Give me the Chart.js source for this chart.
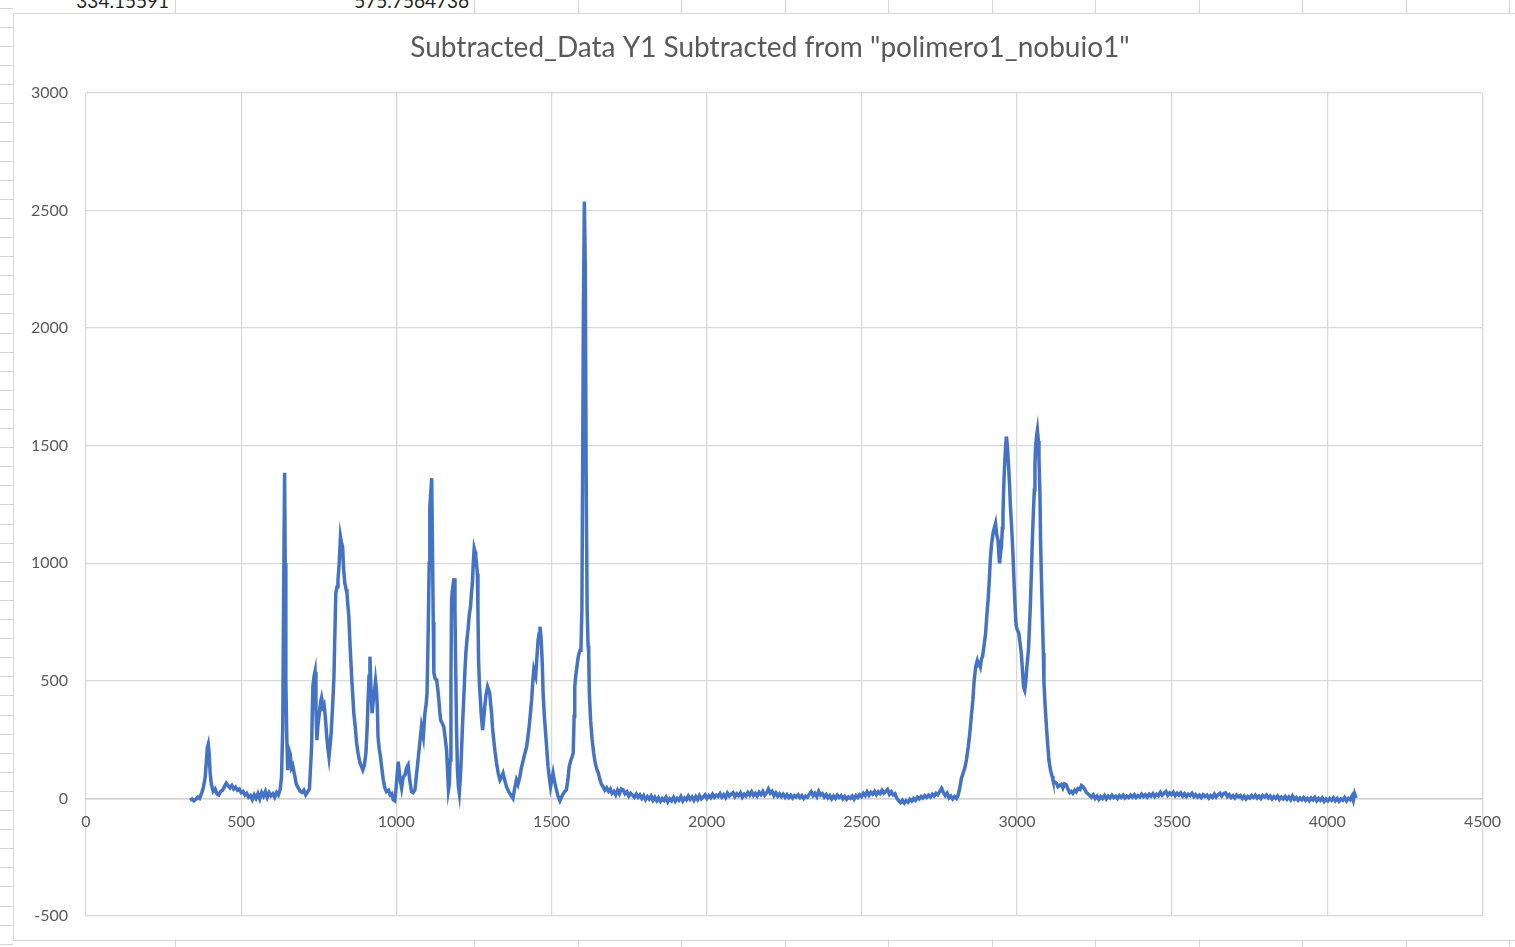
<!DOCTYPE html>
<html>
<head>
<meta charset="utf-8">
<script src="https://cdn.jsdelivr.net/npm/chart.js@4/dist/chart.umd.min.js"></script>
<style>
  html, body { margin: 0; padding: 0; background: #ffffff; }
  body { width: 1515px; height: 947px; position: relative; overflow: hidden; font-family: Lato, "Open Sans", sans-serif; }
  .cell-text { position: absolute; top: -9px; font-size: 19px; color: #1f1f1f; white-space: nowrap; line-height: 20px; }
  .vline { position: absolute; width: 1px; background: #d4d4d4; }
  .hline { position: absolute; height: 1px; background: #d4d4d4; }
  #frame { position: absolute; left: 13px; top: 13px; width: 1520px; height: 928px; border: 1px solid #d9d9d9; background: #ffffff; box-sizing: border-box; }
  #wrap { position: absolute; left: 0; top: 0; width: 1515px; height: 947px; }
</style>
</head>
<body>
<div id="sheet"></div>
<div class="cell-text" style="right:1346px;">334.15591</div>
<div class="cell-text" style="right:1046px;">575.7564736</div>
<div id="frame"></div>
<div id="wrap"><canvas id="chart" width="1515" height="947"></canvas></div>
<script>
// Raman shift (cm-1) / intensity pairs, grouped by spectral region
const regionLow = [
  [335,-8],[342,-2],[348,-10],[354,-3],[360,5],[366,0],[372,20],[378,45],[384,90],[388,160],
  [391,215],[394,230],[397,190],[400,110],[404,60],[410,30],[416,40],[422,20],[428,15],[434,30],
  [440,35],[446,50],[452,65],[458,55],[464,45],[470,55],[476,40],[482,48],[488,35],[494,40],
  [500,25],[506,30],[512,15],[518,22],[524,5],[530,12],[536,-5],[542,15],[548,0],[554,20],
  [560,-2],[566,25],[572,10],[578,30],[584,5],[590,25],[596,12],[602,20],[608,5],[614,25],
  [620,15],[626,40],[630,90],[634,300],[637,900],[640,1385],[642,1000],[644,500],[647,262],[650,120],
  [654,206],[658,190],[662,130],[666,140],[672,100],[678,60],[684,45],[690,30],[696,25],[702,35],
  [708,15],[714,28],[720,40],[727,220],[731,475],[735,520],[738,539],[741,380],[744,248],[748,320],
  [752,363],[756,410],[759,427],[763,390],[767,400],[771,350],[775,278],[779,220],[783,177],[787,230],
  [790,278],[795,400],[799,518],[802,700],[805,873],[809,900],[812,929],[816,1000],[820,1113],[823,1090],
  [827,1070],[830,980],[834,916],[838,890],[841,873],[844,820],[847,773],[851,650],[856,518],[860,430],
  [863,363],[868,300],[872,236],[877,190],[883,151],[888,135],[892,121],[897,140],[902,193],[906,300],
  [909,419],[912,520],[915,603],[918,480],[922,363],[926,420],[929,448],[933,500],[936,461],[939,380],
  [941,262],[945,210],[949,177],[954,120],[958,78],[963,45],[968,29],[975,35],[980,15],[985,20],
  [990,-5],[995,-10],[999,40],[1003,108],[1006,156],[1009,120],[1012,80],[1017,44],[1022,90],[1028,100],
  [1033,130],[1038,142],[1043,80],[1049,29],[1054,25],[1060,36],[1065,100],[1071,177],[1076,240],[1081,305],
  [1087,262],[1092,362],[1096,400],[1099,447],[1103,730],[1106,1000],[1108,1241],[1111,1300],[1114,1362],[1117,1014],
  [1119,750],[1121,533],[1125,510],[1130,504],[1134,460],[1137,419],[1140,370],[1143,333],[1148,320],[1153,305],
  [1158,250],[1162,206],[1165,120],[1168,36],[1171,60],[1173,163],[1176,500],[1178,844],[1182,900],[1186,936],
  [1189,800],[1191,589],[1194,300],[1197,121],[1200,50],[1203,22],[1206,80],[1209,163],[1213,300],[1218,447],
  [1221,540],[1224,617],[1228,680],[1231,716],[1235,780],[1239,815],[1242,870],[1245,915],[1248,1000],[1251,1064],
  [1254,1050],[1256,1028],[1259,990],[1261,957],[1263,800],[1265,589],[1268,480],[1271,419],[1274,350],[1278,291],
  [1281,330],[1285,390],[1289,440],[1294,475],[1298,460],[1301,448],[1304,400],[1307,363],[1310,300],[1314,248],
  [1318,200],[1323,151],[1328,110],[1334,78],[1339,90],[1344,107],[1349,80],[1355,50],[1360,35],[1366,20],
  [1371,10],[1376,0],[1381,40],[1387,78],[1392,60],[1398,92],[1403,130],[1409,163],[1414,190],[1420,220],
  [1424,260],[1428,305],[1432,360],[1436,419],[1440,500],[1443,546],[1446,530],[1449,518],[1453,600],[1457,674],
  [1460,700],[1463,730],[1466,690],[1468,645],[1471,550],[1473,448],[1477,350],[1482,262],[1486,190],[1489,135],
  [1493,90],[1497,50],[1501,80],[1505,108],[1510,70],[1516,36],[1521,10],[1527,-10],[1532,5],[1538,20],
  [1543,30],[1548,36],[1553,80],[1557,135],[1562,160],[1566,175],[1570,193],[1573,350],[1575,475],[1578,520],
  [1582,560],[1586,600],[1589,618],[1592,630],[1595,640],[1598,800],[1600,1300],[1603,2100],[1606,2538],[1609,2250],
  [1612,1300],[1615,800],[1618,650],[1620,618],[1622,450],[1626,333],[1631,250],[1636,193],[1641,150],[1646,125],
  [1651,108],[1656,80],[1661,60],[1666,50],[1672,35],[1678,45],[1684,30],[1690,40],[1695,22],[1701,30],
  [1707,15],[1713,35],[1719,20],[1725,40],[1731,36],[1737,20],[1743,28],[1749,10],[1755,22],[1761,14],
  [1767,5]
];

const regionSilent = [
  [1773,18],[1779,5],[1785,15],[1791,0],[1797,12],[1803,-5],[1809,8],[1815,-3],[1821,10],[1827,-8],
  [1833,5],[1839,-10],[1845,3],[1851,-12],[1857,0],[1863,-8],[1869,5],[1875,-15],[1881,-2],[1887,-10],
  [1893,4],[1899,-12],[1905,0],[1911,-8],[1917,8],[1923,-10],[1929,2],[1935,-6],[1941,10],[1947,-4],
  [1953,6],[1959,-8],[1965,8],[1971,-5],[1977,12],[1983,-2],[1989,6],[1995,15],[2001,0],[2007,12],
  [2013,3],[2019,18],[2025,5],[2031,14],[2037,8],[2043,20],[2049,6],[2055,16],[2061,4],[2067,22],
  [2073,10],[2079,18],[2085,25],[2091,8],[2097,20],[2103,12],[2109,24],[2115,6],[2121,18],[2127,10],
  [2133,25],[2139,14],[2145,28],[2151,12],[2157,22],[2163,10],[2169,26],[2175,16],[2181,30],[2187,14],
  [2193,24],[2199,40],[2205,22],[2211,30],[2217,12],[2223,24],[2229,10],[2235,20],[2241,8],[2247,18],
  [2253,5],[2259,16],[2265,4],[2271,14],[2277,2],[2283,12],[2289,6],[2295,15],[2301,3],[2307,12],
  [2313,0],[2319,10],[2325,5],[2331,18],[2337,28],[2343,12],[2349,22],[2355,8],[2361,30],[2367,14],
  [2373,20],[2379,6],[2385,16],[2391,2],[2397,12],[2403,-2],[2409,10],[2415,0],[2421,14],[2427,4],
  [2433,12],[2439,-2],[2445,8],[2451,-4],[2457,6],[2463,0],[2469,10],[2475,-3],[2481,12],[2487,4],
  [2493,16],[2499,8],[2505,22],[2511,12],[2517,28],[2523,14],[2529,26],[2535,18],[2541,30],[2547,16],
  [2553,28],[2559,20],[2565,34],[2571,22],[2577,30],[2583,38],[2589,18],[2595,28],[2601,15],[2607,20],
  [2613,0],[2619,-10],[2625,-18],[2631,-8],[2637,-20],[2643,-10],[2649,-16],[2655,-4],[2661,-12],[2667,0],
  [2673,-8],[2679,5],[2685,-2],[2691,8],[2697,2],[2703,12],[2709,4],[2715,14],[2721,6],[2727,18],
  [2733,10],[2739,22],[2745,16],[2751,30],[2757,43],[2763,25],[2769,12],[2775,22],[2781,2],[2787,10],
  [2793,-2],[2799,8],[2805,0],[2810,12]
];

const regionCH = [
  [2815,40],[2821,85],[2827,110],[2832,130],[2837,163],[2843,220],[2848,277],[2853,350],[2858,419],[2862,500],
  [2867,560],[2872,585],[2875,570],[2878,575],[2882,560],[2886,595],[2889,603],[2894,650],[2899,702],[2903,780],
  [2907,844],[2911,930],[2914,1014],[2918,1080],[2923,1128],[2927,1150],[2931,1170],[2935,1120],[2939,1099],[2942,1030],
  [2944,1000],[2947,1040],[2950,1071],[2953,1150],[2955,1213],[2958,1350],[2961,1439],[2964,1510],[2966,1539],[2969,1500],
  [2972,1439],[2976,1340],[2979,1241],[2983,1150],[2987,1043],[2990,940],[2993,844],[2996,760],[2998,730],[3002,715],
  [3006,702],[3010,660],[3014,617],[3018,540],[3021,475],[3025,460],[3028,489],[3032,560],[3037,631],[3040,720],
  [3043,815],[3047,980],[3050,1113],[3053,1220],[3056,1312],[3058,1420],[3060,1496],[3063,1540],[3066,1567],[3069,1520],
  [3071,1439],[3074,1300],[3076,1099],[3079,930],[3082,773],[3085,620],[3087,490],[3091,390],[3095,305],[3099,230],
  [3103,163],[3108,120],[3113,95],[3116,78],[3121,70],[3127,65],[3132,50],[3137,55],[3143,60],[3148,45],
  [3153,62],[3159,58],[3164,40],[3170,25],[3175,30],[3180,22],[3186,35],[3191,28],[3197,42],[3203,38],
  [3208,55],[3213,50],[3218,40],[3224,25],[3229,20],[3234,14]
];

const regionHigh = [
  [3240,5],[3246,15],[3252,0],[3258,10],[3264,-4],[3270,8],[3276,0],[3282,12],[3288,-2],[3294,10],
  [3300,2],[3306,14],[3312,4],[3318,10],[3324,0],[3330,12],[3336,4],[3342,14],[3348,2],[3354,10],
  [3360,4],[3366,14],[3372,6],[3378,16],[3384,4],[3390,12],[3396,6],[3402,18],[3408,8],[3414,16],
  [3420,6],[3426,18],[3432,10],[3438,20],[3444,8],[3450,18],[3456,12],[3462,26],[3468,14],[3474,22],
  [3480,30],[3486,14],[3492,24],[3498,16],[3504,26],[3510,12],[3516,22],[3522,14],[3528,24],[3534,10],
  [3540,20],[3546,8],[3552,18],[3558,12],[3564,22],[3570,8],[3576,16],[3582,6],[3588,14],[3594,4],
  [3600,16],[3606,8],[3612,14],[3618,2],[3624,12],[3630,4],[3636,18],[3642,6],[3648,16],[3654,22],
  [3660,10],[3666,20],[3672,24],[3678,8],[3684,16],[3690,4],[3696,12],[3702,2],[3708,14],[3714,6],
  [3720,12],[3726,0],[3732,10],[3738,-2],[3744,8],[3750,2],[3756,12],[3762,4],[3768,14],[3774,2],
  [3780,10],[3786,0],[3792,12],[3798,6],[3804,14],[3810,2],[3816,10],[3822,-2],[3828,8],[3834,0],
  [3840,10],[3846,-4],[3852,6],[3858,-2],[3864,8],[3870,-4],[3876,6],[3882,-6],[3888,10],[3894,-4],
  [3900,4],[3906,-8],[3912,2],[3918,-6],[3924,4],[3930,-8],[3936,0],[3942,-10],[3948,2],[3954,-6],
  [3960,4],[3966,-10],[3972,0],[3978,-8],[3984,2],[3990,-12],[3996,-2],[4002,-10],[4008,0],[4014,-8],
  [4020,2],[4026,-10],[4032,0],[4038,-12],[4044,-2],[4050,-8],[4056,4],[4062,-10],[4068,0],[4074,-6],
  [4080,10],[4084,-8],[4088,20],[4093,2]
];

const xTicks = [0, 500, 1000, 1500, 2000, 2500, 3000, 3500, 4000, 4500];
const yTicks = [-500, 0, 500, 1000, 1500, 2000, 2500, 3000];
const chartTitle = 'Subtracted_Data Y1 Subtracted from "polimero1_nobuio1"';

// spreadsheet cell lines around the chart object
(function drawSheet() {
  const sheet = document.getElementById('sheet');
  const cols = [175, 474, 578, 681, 785, 888, 992, 1095, 1199, 1302, 1406, 1509];
  cols.forEach(x => {
    const top = document.createElement('div');
    top.className = 'vline';
    top.style.cssText = 'left:' + x + 'px;top:0;height:13px;';
    sheet.appendChild(top);
    const bottom = document.createElement('div');
    bottom.className = 'vline';
    bottom.style.cssText = 'left:' + x + 'px;top:941px;height:6px;';
    sheet.appendChild(bottom);
  });
  for (let y = 7.8; y < 947; y += 19.1) {
    const row = document.createElement('div');
    row.className = 'hline';
    row.style.cssText = 'left:0;width:13px;top:' + Math.round(y) + 'px;';
    sheet.appendChild(row);
  }
})();

const points = [].concat(regionLow, regionSilent, regionCH, regionHigh).map(p => ({ x: p[0], y: p[1] }));

const gridColor = '#d9d9d9';
const textColor = '#595959';

// centre the title across the whole chart object rather than the padded layout box
const titleSpan = {
  id: 'titleSpan',
  afterLayout(chart) {
    const t = chart.titleBlock;
    if (t) { t.left = 26; t.right = 1514; t.width = t.right - t.left; }
  }
};

new Chart(document.getElementById('chart'), {
  type: 'line',
  data: {
    datasets: [{
      label: 'Y1',
      data: points,
      borderColor: '#4472c4',
      borderWidth: 3.5,
      pointRadius: 0,
      tension: 0,
      fill: false
    }]
  },
  plugins: [titleSpan],
  options: {
    responsive: false,
    animation: false,
    events: [],
    layout: { padding: { left: 0, right: 32, top: 0, bottom: 31 } },
    plugins: {
      legend: { display: false },
      tooltip: { enabled: false },
      title: {
        display: true,
        text: chartTitle,
        color: textColor,
        font: { family: 'Lato', size: 28, weight: 'normal', lineHeight: 1.2 },
        padding: { top: 31, bottom: 28.4 }
      }
    },
    scales: {
      x: {
        type: 'linear',
        position: { y: 0 },
        min: 0,
        max: 4500,
        afterBuildTicks: s => { s.ticks = xTicks.map(v => ({ value: v })); },
        ticks: { color: textColor, font: { family: 'Lato', size: 16 }, padding: 14, maxRotation: 0, callback: v => String(v) },
        grid: { color: gridColor, lineWidth: 1.3, drawTicks: false },
        border: { display: true, color: '#d0d0d0', width: 1.5 }
      },
      y: {
        type: 'linear',
        min: -500,
        max: 3000,
        afterBuildTicks: s => { s.ticks = yTicks.map(v => ({ value: v })); },
        afterFit: s => { s.width = 86; },
        ticks: { color: textColor, font: { family: 'Lato', size: 16 }, padding: 18, callback: v => String(v) },
        grid: { color: gridColor, lineWidth: 1.3, drawTicks: false },
        border: { display: false }
      }
    }
  }
});
</script>
</body>
</html>
